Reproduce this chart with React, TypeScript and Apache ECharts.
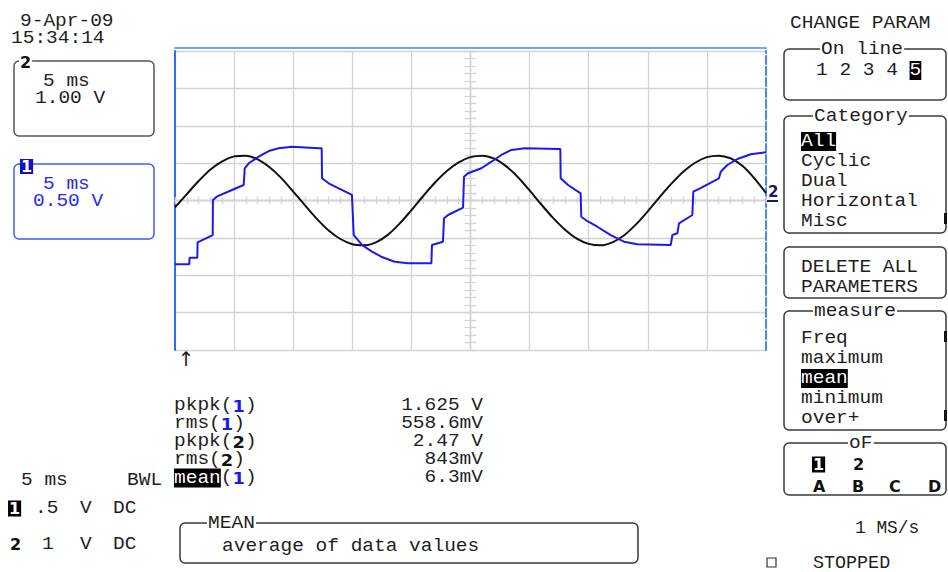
import React, { useEffect, useRef } from 'react';
import * as echarts from 'echarts';

// ---- Channel 1 (blue, 0.5 V/div): time in ms, value in volts ----
const CH1_T = [0, 1.21, 1.23, 1.89, 1.91, 3.19, 3.21, 3.53, 4.82, 5.81, 5.9, 6.24, 7.08, 7.93, 8.77, 9.9, 12.16, 12.41, 12.44, 13.0, 13.85, 14.97, 15.12, 15.82, 16.67, 17.45, 18.59, 19.71, 21.69, 21.74, 22.67, 22.76, 23.1, 24.37, 24.45, 24.79, 25.92, 26.77, 27.61, 28.46, 29.59, 32.41, 32.6, 32.63, 33.25, 34.32, 34.37, 34.86, 35.73, 36.86, 37.99, 39.11, 41.94, 42.08, 42.5, 42.64, 43.77, 43.85, 44.42, 46.02, 46.17, 46.73, 47.58, 48.71, 50.0];
const CH1_V = [-0.853, -0.853, -0.765, -0.765, -0.559, -0.462, 0.007, 0.051, 0.14, 0.207, 0.431, 0.498, 0.586, 0.662, 0.698, 0.72, 0.698, 0.698, 0.297, 0.23, 0.163, 0.074, -0.462, -0.595, -0.685, -0.752, -0.819, -0.84, -0.84, -0.595, -0.551, -0.238, -0.194, -0.096, 0.318, 0.364, 0.431, 0.519, 0.609, 0.676, 0.698, 0.689, 0.689, 0.297, 0.207, 0.096, -0.217, -0.274, -0.351, -0.462, -0.551, -0.586, -0.595, -0.462, -0.439, -0.305, -0.194, 0.118, 0.163, 0.297, 0.385, 0.475, 0.555, 0.618, 0.645];

// ---- Channel 2 (black, 1 V/div): time in ms, value in volts ----
const CH2_T = [0, 1, 2, 3, 4, 5, 6, 7, 8, 9, 10, 11, 12, 13, 14, 15, 16, 17, 18, 19, 20, 21, 22, 23, 24, 25, 26, 27, 28, 29, 30, 31, 32, 33, 34, 35, 36, 37, 38, 39, 40, 41, 42, 43, 44, 45, 46, 47, 48, 49, 50];
const CH2_V = [-0.18, 0.17, 0.52, 0.83, 1.05, 1.18, 1.2, 1.1, 0.89, 0.6, 0.24, -0.13, -0.49, -0.8, -1.03, -1.17, -1.2, -1.12, -0.92, -0.62, -0.26, 0.12, 0.48, 0.79, 1.02, 1.16, 1.2, 1.12, 0.92, 0.63, 0.27, -0.11, -0.47, -0.78, -1.02, -1.16, -1.2, -1.12, -0.93, -0.64, -0.29, 0.09, 0.45, 0.77, 1.01, 1.16, 1.2, 1.13, 0.93, 0.6, 0.2];

// ---- Texts ----
const DATE_TEXT = '9-Apr-09';
const TIME_TEXT = '15:34:14';
const CH2_BOX = ['5 ms', '1.00 V'];
const CH1_BOX = ['5 ms', '0.50 V'];
const MEAS_LABELS = ['pkpk({b|1})', 'rms({b|1})', 'pkpk({k|2})', 'rms({k|2})', '{h|mean}({b|1})'];
const MEAS_VALUES = ['1.625 V', '558.6mV', '2.47 V', '843mV', '6.3mV'];
const CATEGORY_ITEMS = ['{h|All}', 'Cyclic', 'Dual', 'Horizontal', 'Misc'];
const MEASURE_ITEMS = ['Freq', 'maximum', '{h|mean}', 'minimum', 'over+'];
const OF_LETTERS = ['A', 'B', 'C', 'D'];

const MONO = "'Liberation Mono', 'DejaVu Sans Mono', monospace";
const F = `17.5px ${MONO}`;
const SX = 1.114;
const LH = 15;
const DY = 1.5;
const BOLD = "bold 16px 'DejaVu Sans', sans-serif";
const INK = '#1e1e1e';
const TRACE_BLUE = '#1a1aee';
const BORDER_BLUE = '#4a86f5';
const GRID_GRAY = '#d3d3d3';

const RICH = {
  h: { font: F, fill: '#fff', backgroundColor: '#000', lineHeight: LH, padding: [1, 0, 0, 0] },
  b: { font: BOLD, fill: TRACE_BLUE, lineHeight: LH },
  k: { font: BOLD, fill: '#111', lineHeight: LH },
  ib: { font: BOLD, fill: '#fff', backgroundColor: '#000', lineHeight: LH, padding: [0, 1, 0, 1] },
};

function T(x: number, y: number, text: string, extra: any = {}, sx: number = SX) {
  return {
    type: 'text', x, y: y + DY, scaleX: sx, silent: true, z: 10,
    style: { text, font: F, fill: INK, lineHeight: LH, textAlign: 'left', textVerticalAlign: 'middle', rich: RICH, ...extra },
  };
}
function box(x: number, y: number, w: number, h: number, stroke = '#3a3a3a') {
  return {
    type: 'rect', silent: true, z: 5,
    shape: { x, y, width: w, height: h, r: 5 },
    style: { fill: 'none', stroke, lineWidth: 1.5 },
  };
}
function title(x: number, y: number, text: string) {
  return T(x, y, text, { backgroundColor: '#fff', padding: [0, 1, 0, 1] });
}
function mark(x: number, y: number) {
  return { type: 'rect', silent: true, z: 6, shape: { x, y, width: 3, height: 11 }, style: { fill: '#111' } };
}

export default function App() {
  const ref = useRef<HTMLDivElement>(null);
  useEffect(() => {
    if (!ref.current) return;
    const chart = echarts.init(ref.current, null, { renderer: 'svg' });

    const hidden = { axisLabel: { show: false }, axisTick: { show: false }, splitLine: { show: false } };

    const graphics: any[] = [
      // top-left date/time
      T(20, 20, DATE_TEXT),
      T(11, 37, TIME_TEXT),
      // channel 2 box
      box(14, 61, 140, 75, '#555'),
      T(19, 61, '2', { font: BOLD, fill: '#111', backgroundColor: '#fff', padding: [0, 1, 0, 1] }, 1),
      T(43, 80, CH2_BOX[0]),
      T(35, 97, CH2_BOX[1]),
      // channel 1 box
      box(14, 164, 140, 75, '#3a5cf0'),
      T(20, 165, '1', { font: BOLD, fill: '#fff', backgroundColor: '#1010c8', padding: [0, 1, 0, 1] }, 1),
      T(43, 183, CH1_BOX[0], { fill: '#2a2ae6' }),
      T(33, 200, CH1_BOX[1], { fill: '#2a2ae6' }),

      // right panel
      T(790, 22, 'CHANGE PARAM'),
      box(784, 49, 162, 51),
      title(820, 48.5, 'On line'),
      T(816, 69, '1 2 3 4 {h|5}'),
      box(784, 116, 162, 117),
      title(813, 115.5, 'Category'),
      ...CATEGORY_ITEMS.map((s, i) => T(801, 140 + i * 20, s)),
      mark(944, 213),
      box(784, 247, 162, 51),
      T(801, 266, 'DELETE ALL'),
      T(801, 286, 'PARAMETERS'),
      box(784, 311, 162, 119),
      title(813, 310.5, 'measure'),
      ...MEASURE_ITEMS.map((s, i) => T(801, 337 + i * 20, s)),
      mark(944, 331),
      mark(944, 410),
      box(784, 443, 162, 52),
      title(848, 442.5, 'oF'),
      T(812, 463, '{ib|1}', {}, 1),
      T(853, 463, '2', { font: BOLD, fill: '#111' }, 1),
      ...OF_LETTERS.map((s, i) => T([813, 852, 889, 928][i], 485, s, { font: BOLD, fill: '#111' }, 1)),
      T(855, 527, '1 MS/s', {}, 1.02),
      { type: 'rect', silent: true, z: 6, shape: { x: 767, y: 558, width: 9, height: 9 }, style: { fill: 'none', stroke: '#333', lineWidth: 1.2 } },
      T(813, 562, 'STOPPED', {}, 1.05),

      // measurement table
      ...MEAS_LABELS.map((s, i) => T(174, 404.5 + i * 18, s)),
      ...MEAS_VALUES.map((s, i) => T(483, 404.5 + i * 18, s, { textAlign: 'right' })),

      // bottom-left channel settings
      T(21, 479, '5 ms'),
      T(127, 479, 'BWL'),
      T(8, 507, '{ib|1}', {}, 1),
      T(35, 507, '.5'),
      T(80, 507, 'V'),
      T(113, 507, 'DC'),
      T(10, 543, '2', { font: BOLD, fill: '#111' }, 1),
      T(42, 543, '1'),
      T(80, 543, 'V'),
      T(113, 543, 'DC'),

      // MEAN help box
      box(180, 523, 458, 40),
      title(207, 522, 'MEAN'),
      T(222, 545, 'average of data values'),

      // trigger arrow and channel 2 marker
      T(186, 357, '↑', { font: "20px 'DejaVu Sans', sans-serif", textAlign: 'center', lineHeight: 18 }, 1),
      T(768, 190, '2', { font: "bold 15px 'DejaVu Sans', sans-serif", fill: '#1a1a66' }, 1),
      { type: 'line', silent: true, z: 10, shape: { x1: 767, y1: 201, x2: 778, y2: 201 }, style: { stroke: '#1a1a66', lineWidth: 2 } },
    ];

    const option: any = {
      animation: false,
      backgroundColor: '#fff',
      grid: { left: 175, top: 51, width: 591, height: 299, containLabel: false, outerBoundsMode: 'none' },
      xAxis: [
        { type: 'value', min: 0, max: 50, interval: 5, position: 'bottom',
          axisLine: { show: false, onZero: false }, axisTick: { show: false }, axisLabel: { show: false },
          splitLine: { show: true, lineStyle: { color: GRID_GRAY, width: 1.3 } } },
        { type: 'value', min: -25, max: 25, interval: 1, position: 'bottom',
          axisLine: { show: true, onZero: true, onZeroAxisIndex: 0, lineStyle: { color: GRID_GRAY, width: 1.3 } },
          axisTick: { show: true, inside: true, length: 3.5, lineStyle: { color: GRID_GRAY, width: 1.3 } },
          axisLabel: { show: false }, splitLine: { show: false } },
        { type: 'value', min: -25, max: 25, interval: 1, position: 'bottom',
          axisLine: { show: true, onZero: true, onZeroAxisIndex: 0, lineStyle: { color: GRID_GRAY, width: 1.3 } },
          axisTick: { show: true, inside: false, length: 3.5, lineStyle: { color: GRID_GRAY, width: 1.3 } },
          axisLabel: { show: false }, splitLine: { show: false } },
        { type: 'value', min: 0, max: 50, position: 'top', offset: 3,
          axisLine: { show: true, onZero: false, lineStyle: { color: BORDER_BLUE, width: 1.6 } }, ...hidden },
      ],
      yAxis: [
        { type: 'value', min: -2, max: 2, interval: 0.5, position: 'left',
          axisLine: { show: true, onZero: false, lineStyle: { color: '#2f6df0', width: 2 } },
          axisTick: { show: false }, axisLabel: { show: false },
          splitLine: { show: true, lineStyle: { color: GRID_GRAY, width: 1.3 } } },
        { type: 'value', min: -4, max: 4, interval: 1, position: 'right',
          axisLine: { show: true, onZero: false, lineStyle: { color: BORDER_BLUE, width: 2, type: [8, 3] } }, ...hidden },
        { type: 'value', min: -20, max: 20, interval: 1, position: 'left',
          axisLine: { show: true, onZero: true, onZeroAxisIndex: 1, lineStyle: { color: GRID_GRAY, width: 1.3 } },
          axisTick: { show: true, inside: true, length: 6, lineStyle: { color: GRID_GRAY, width: 1.3 } },
          axisLabel: { show: false }, splitLine: { show: false } },
        { type: 'value', min: -20, max: 20, interval: 1, position: 'left',
          axisLine: { show: true, onZero: true, onZeroAxisIndex: 1, lineStyle: { color: GRID_GRAY, width: 1.3 } },
          axisTick: { show: true, inside: false, length: 6, lineStyle: { color: GRID_GRAY, width: 1.3 } },
          axisLabel: { show: false }, splitLine: { show: false } },
      ],
      series: [
        { type: 'line', name: 'CH2', xAxisIndex: 0, yAxisIndex: 1, symbol: 'none', smooth: 0.3,
          data: CH2_T.map((t, i) => [t, CH2_V[i]]),
          lineStyle: { color: '#111', width: 2 }, z: 3 },
        { type: 'line', name: 'CH1', xAxisIndex: 0, yAxisIndex: 0, symbol: 'none',
          data: CH1_T.map((t, i) => [t, CH1_V[i]]),
          lineStyle: { color: TRACE_BLUE, width: 2 }, z: 4 },
      ],
      graphic: { elements: graphics },
    };
    chart.setOption(option);
    return () => chart.dispose();
  }, []);
  return <div ref={ref} style={{ position: 'fixed', left: 0, top: 0, width: 948, height: 572 }} />;
}
